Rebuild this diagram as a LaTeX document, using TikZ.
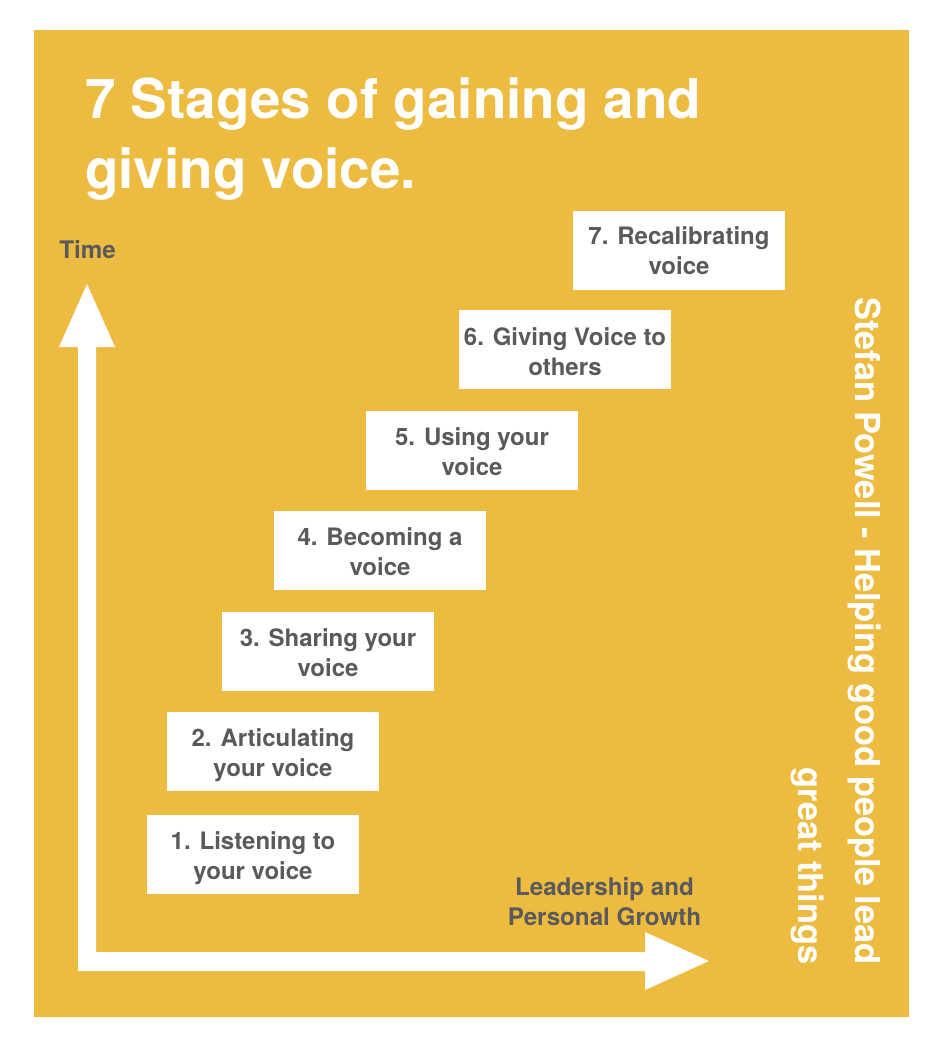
\documentclass[tikz,border=0pt]{standalone}
\usepackage{fontspec}
\setmainfont{TeX Gyre Heros}
\definecolor{bgy}{HTML}{EDBB3F}
\definecolor{tgray}{HTML}{5A5A5C}
\begin{document}
\begin{tikzpicture}[x=1pt,y=-1pt,
  stage/.style={fill=white,draw=none,minimum width=212pt,minimum height=79pt,inner sep=0pt},
  stagetext/.style={inner sep=0pt,align=center,text=tgray,font=\fontsize{24}{30}\selectfont\bfseries},
  axlabel/.style={inner sep=0pt,align=center,text=tgray,font=\fontsize{24.2}{30}\selectfont\bfseries},
  title/.style={inner sep=0pt,align=left,anchor=north west,text=white,font=\fontsize{54.8}{70}\selectfont\bfseries},
  side/.style={inner sep=0pt,rotate=-90,align=left,text=white,font=\fontsize{34.4}{57}\selectfont\bfseries},
  axis/.style={fill=white,draw=none}]
\useasboundingbox (0,0) rectangle (950,1054);
\fill[bgy] (34,30) rectangle (909,1017);
\coordinate (corner) at (78,971);
\coordinate (ytip) at (87,284);
\coordinate (xtip) at (709,961);
\fill[axis] (corner) -- (78,347) -- (59,347) -- (ytip) -- (115,347) -- (96,347) -- (96,952) -- (645,952) -- (645,932) -- (xtip) -- (645,990) -- (645,971) -- cycle;
\node[title] (t) at (85,77.5) {7 Stages of gaining and\\giving voice.};
\node[axlabel] (time) at (87.5,250) {Time};
\node[stage,label={[stagetext,yshift=-1pt]center:7. Recalibrating\\voice}] (s7) at (679,250) {};
\node[stage,label={[stagetext,yshift=-3pt]center:6. Giving Voice to\\others}] (s6) at (565,349) {};
\node[stage,label={[stagetext,yshift=-1pt]center:5. Using your\\voice}] (s5) at (472,450.5) {};
\node[stage,label={[stagetext,yshift=-1.5pt]center:4. Becoming a\\voice}] (s4) at (380,550.5) {};
\node[stage,label={[stagetext,yshift=-1.5pt]center:3. Sharing your\\voice}] (s3) at (328,651.5) {};
\node[stage,label={[stagetext,yshift=-4pt]center:2. Articulating\\your voice}] (s2) at (273,751.5) {};
\node[stage,label={[stagetext,yshift=-4pt]center:1. Listening to\\your voice}] (s1) at (253,854.5) {};
\node[axlabel] (lead) at (604.5,902) {Leadership and\\Personal Growth};
\node[side] (credit) at (836,631) {\parbox{667pt}{\raggedleft Stefan Powell - Helping good people lead\\great things}};
\end{tikzpicture}
\end{document}
